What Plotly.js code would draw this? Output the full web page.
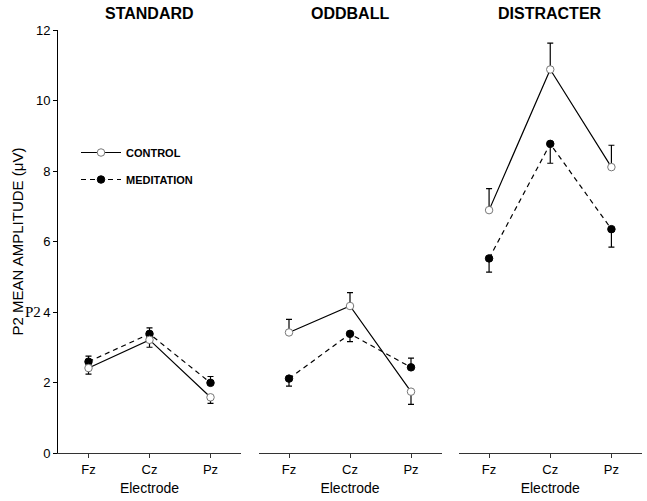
<!DOCTYPE html>
<html>
<head>
<meta charset="utf-8">
<script src="https://cdn.plot.ly/plotly-3.0.1.min.js"></script>
<style>html,body{margin:0;padding:0;background:#fff;}#chart{width:647px;height:501px;}</style>
</head>
<body>
<div id="chart"></div>
<script>
// ---- data ----
const electrodes = ['Fz', 'Cz', 'Pz'];
const conditions = ['STANDARD', 'ODDBALL', 'DISTRACTER'];

const controlStandard = [2.41, 3.21, 1.58];
const controlStandardErrUp = [0, 0, 0];
const controlStandardErrDown = [0.17, 0.21, 0.17];
const meditationStandard = [2.59, 3.38, 1.99];
const meditationStandardErrUp = [0.16, 0.17, 0.18];
const meditationStandardErrDown = [0, 0, 0];

const controlOddball = [3.42, 4.17, 1.74];
const controlOddballErrUp = [0.37, 0.38, 0];
const controlOddballErrDown = [0, 0, 0.36];
const meditationOddball = [2.11, 3.38, 2.43];
const meditationOddballErrUp = [0, 0, 0.26];
const meditationOddballErrDown = [0.21, 0.22, 0];

const controlDistracter = [6.89, 10.88, 8.11];
const controlDistracterErrUp = [0.61, 0.75, 0.62];
const controlDistracterErrDown = [0, 0, 0];
const meditationDistracter = [5.52, 8.77, 6.35];
const meditationDistracterErrUp = [0, 0, 0];
const meditationDistracterErrDown = [0.39, 0.55, 0.51];

const yTicks = [0, 2, 4, 6, 8, 10, 12];
const seriesNames = ['CONTROL', 'MEDITATION'];

// ---- build ----
const FONT = 'Arial, "Liberation Sans", sans-serif';
const controlSets = [
  [controlStandard, controlStandardErrUp, controlStandardErrDown],
  [controlOddball, controlOddballErrUp, controlOddballErrDown],
  [controlDistracter, controlDistracterErrUp, controlDistracterErrDown]
];
const meditationSets = [
  [meditationStandard, meditationStandardErrUp, meditationStandardErrDown],
  [meditationOddball, meditationOddballErrUp, meditationOddballErrDown],
  [meditationDistracter, meditationDistracterErrUp, meditationDistracterErrDown]
];
const xNames = ['x', 'x2', 'x3'];
const traces = [];
for (let i = 0; i < 3; i++) {
  const m = meditationSets[i];
  traces.push({
    type: 'scatter', mode: 'lines+markers', name: seriesNames[1],
    x: electrodes, y: m[0], xaxis: xNames[i], yaxis: 'y',
    showlegend: i === 0, legendgroup: 'med', legendrank: 2,
    line: {color: '#000', width: 1.2, dash: '5px,4px'},
    marker: {symbol: 'circle', size: 7.5, color: '#000', line: {color: '#000', width: 1}},
    error_y: {type: 'data', symmetric: false, array: m[1], arrayminus: m[2], color: '#000', thickness: 1.2, width: 3}
  });
  const c = controlSets[i];
  traces.push({
    type: 'scatter', mode: 'lines+markers', name: seriesNames[0],
    x: electrodes, y: c[0], xaxis: xNames[i], yaxis: 'y',
    showlegend: i === 0, legendgroup: 'ctl', legendrank: 1,
    line: {color: '#000', width: 1.2},
    marker: {symbol: 'circle', size: 7.5, color: '#fff', line: {color: '#777', width: 1}},
    error_y: {type: 'data', symmetric: false, array: c[1], arrayminus: c[2], color: '#000', thickness: 1.2, width: 3}
  });
}

const L = 58, R = 5, T = 30, B = 48;
const W = 647 - L - R;
const domains = [[0, 183 / W], [200.5 / W, 383.5 / W], [400.5 / W, 1]];

function xaxis(d) {
  return {
    domain: d, anchor: 'y', type: 'category', categoryorder: 'array', categoryarray: electrodes,
    range: [-0.5, 2.5], showline: true, linecolor: '#333', linewidth: 1,
    ticks: 'outside', ticklen: 4, tickwidth: 1, tickcolor: '#333',
    showgrid: false, zeroline: false,
    tickfont: {family: FONT, size: 13, color: '#000'},
    title: {text: 'Electrode', font: {family: FONT, size: 14, color: '#000'}, standoff: 7},
    fixedrange: true
  };
}

const annotations = conditions.map((t, i) => ({
  text: '<b>' + t + '</b>', xref: 'paper', yref: 'paper',
  x: (domains[i][0] + domains[i][1]) / 2, y: (453 - 14) / 423,
  xanchor: 'center', yanchor: 'middle', showarrow: false,
  font: {family: FONT, size: 16, color: '#000'}
}));
annotations.push({
  text: 'P2', xref: 'paper', yref: 'y', x: (43 - L) / W, y: 4,
  xanchor: 'right', yanchor: 'middle', showarrow: false,
  font: {family: '"Liberation Serif", "Times New Roman", serif', size: 15, color: '#000'}
});

const layout = {
  width: 647, height: 501,
  margin: {l: L, r: R, t: T, b: B, pad: 0},
  paper_bgcolor: '#fff', plot_bgcolor: '#fff',
  font: {family: FONT, color: '#000'},
  xaxis: xaxis(domains[0]),
  xaxis2: xaxis(domains[1]),
  xaxis3: xaxis(domains[2]),
  yaxis: {
    range: [0, 12], tickvals: yTicks, showline: true, linecolor: '#000', linewidth: 1,
    ticks: 'outside', ticklen: 4, tickwidth: 1, tickcolor: '#000',
    showgrid: false, zeroline: false, anchor: 'x',
    tickfont: {family: FONT, size: 13, color: '#000'},
    title: {text: 'P2 MEAN AMPLITUDE (μV)', font: {family: FONT, size: 15, color: '#000'}, standoff: 8},
    fixedrange: true
  },
  showlegend: true,
  legend: {
    x: (76 - L) / W, y: (453 - 138) / 423, xanchor: 'left', yanchor: 'top',
    bgcolor: 'rgba(0,0,0,0)', borderwidth: 0,
    font: {family: FONT, size: 11, color: '#000', weight: 'bold'},
    traceorder: 'grouped', tracegroupgap: 8, itemwidth: 40
  },
  annotations: annotations
};

Plotly.newPlot('chart', traces, layout, {displayModeBar: false, staticPlot: true});
</script>
</body>
</html>
